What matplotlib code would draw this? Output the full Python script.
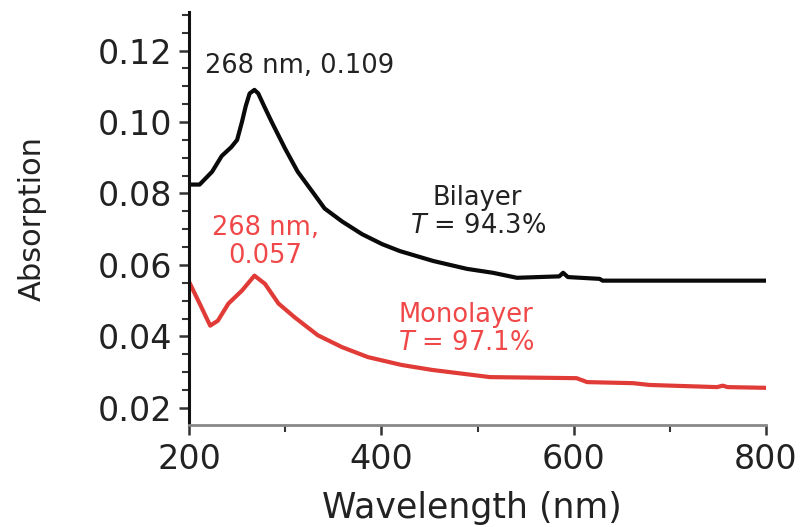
import matplotlib
matplotlib.use("Agg")
import matplotlib.pyplot as plt
from matplotlib.ticker import MultipleLocator

# Data
bi_wl = [200, 211, 224, 234, 244, 250, 255, 259, 263, 268, 272, 278, 286, 300,
         313, 328, 341, 359, 380, 401, 419, 454, 489, 516, 541, 585, 589, 594,
         627, 630, 800]
bi_abs = [0.0825, 0.0825, 0.0861, 0.0905, 0.0930, 0.0950, 0.1000, 0.1045,
          0.1080, 0.1090, 0.1080, 0.1045, 0.1000, 0.0925, 0.0861, 0.0806,
          0.0758, 0.0722, 0.0686, 0.0658, 0.0639, 0.0611, 0.0589, 0.0578,
          0.0564, 0.0568, 0.0578, 0.0566, 0.0561, 0.0556, 0.0556]
mono_wl = [200, 211, 222, 230, 241, 255, 268, 279, 293, 310, 334, 359, 386, 421,
           453, 513, 603, 614, 662, 679, 749, 755, 760, 800]
mono_abs = [0.0553, 0.0492, 0.0430, 0.0444, 0.0492, 0.0528, 0.057, 0.0547,
            0.0492, 0.0453, 0.0403, 0.0370, 0.0342, 0.0320, 0.0306, 0.0286,
            0.0283, 0.0272, 0.0269, 0.0264, 0.0258, 0.0262, 0.0258, 0.0256]

x_ticks = [200, 400, 600, 800]
y_ticks = [0.02, 0.04, 0.06, 0.08, 0.10, 0.12]
y_tick_labels = ["0.02", "0.04", "0.06", "0.08", "0.10", "0.12"]

TXT = "#222222"
RED_LINE = "#e03b36"
RED_TXT = "#f04848"

plt.rcParams['font.family'] = ['DejaVu Sans']

fig = plt.figure(figsize=(8.01, 5.27), dpi=100)
ax = fig.add_axes([0.236, 0.1936, 0.7203, 0.7836])

ax.plot(bi_wl, bi_abs, color="#0a0a0a", lw=3.0, solid_joinstyle='round')
ax.plot(mono_wl, mono_abs, color=RED_LINE, lw=3.0, solid_joinstyle='round')

ax.set_xlim(200, 800)
ax.set_ylim(0.0152, 0.1308)

ax.spines['top'].set_visible(False)
ax.spines['right'].set_visible(False)
ax.spines['left'].set_color('#111111')
ax.spines['left'].set_linewidth(2.2)
ax.spines['bottom'].set_color('#888888')
ax.spines['bottom'].set_linewidth(2.0)

ax.set_xticks(x_ticks)
ax.xaxis.set_minor_locator(MultipleLocator(100))
ax.set_yticks(y_ticks)
ax.set_yticklabels(y_tick_labels)
ax.yaxis.set_minor_locator(MultipleLocator(0.005))

ax.tick_params(axis='both', which='major', direction='out', length=7, width=1.8,
               labelsize=24, labelcolor=TXT, color='#333333', pad=5)
ax.tick_params(axis='both', which='minor', direction='out', length=5, width=1.5,
               color='#333333')
ax.tick_params(axis='x', which='major', pad=6)

ax.set_xlabel("Wavelength (nm)", fontsize=25, color=TXT, va='center')
ax.xaxis.set_label_coords(0.49, -0.20)
ax.set_ylabel("Absorption", fontsize=22, color=TXT, va='center')
ax.yaxis.set_label_coords(-0.272, 0.5)

ax.text(315, 0.1157, "268 nm, 0.109", fontsize=18.5, color=TXT, ha='center', va='center')
ax.text(279, 0.0663, "268 nm,\n0.057", fontsize=18.5, color=RED_TXT, ha='center',
        va='center', linespacing=1.1)
ax.text(500, 0.0747, "Bilayer\n$\\it{T}$ = 94.3%", fontsize=18.5, color=TXT, ha='center',
        va='center', linespacing=1.1)
ax.text(488, 0.0420, "Monolayer\n$\\it{T}$ = 97.1%", fontsize=18.5, color=RED_TXT,
        ha='center', va='center', linespacing=1.1)

fig.savefig("out.png", dpi=100)
